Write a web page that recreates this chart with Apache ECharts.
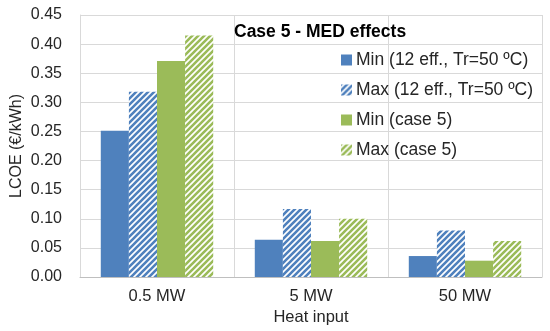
<!DOCTYPE html>
<html><head><meta charset="utf-8">
<script src="https://cdn.jsdelivr.net/npm/echarts@6/dist/echarts.min.js"></script>
<style>html,body{margin:0;padding:0;background:#fff}#c{width:550px;height:331px}</style>
</head><body><div id="c"></div>
<script>
var categories = ['0.5 MW', '5 MW', '50 MW'];
var seriesNames = ['Min (12 eff., Tr=50 ºC)', 'Max (12 eff., Tr=50 ºC)', 'Min (case 5)', 'Max (case 5)'];
var minEff12 = [0.251, 0.064, 0.036];
var maxEff12 = [0.318, 0.117, 0.080];
var minCase5 = [0.371, 0.062, 0.028];
var maxCase5 = [0.415, 0.100, 0.062];
var yTicks = [0, 0.05, 0.10, 0.15, 0.20, 0.25, 0.30, 0.35, 0.40, 0.45];

var BLUE = '#4F81BD', GREEN = '#9BBB59';
function stripe(col) {
  var s = 6, c = document.createElement('canvas');
  c.width = s; c.height = s;
  var g = c.getContext('2d');
  g.fillStyle = '#fff'; g.fillRect(0, 0, s, s);
  g.strokeStyle = col; g.lineWidth = 2.6;
  g.beginPath();
  g.moveTo(-1, s + 1); g.lineTo(s + 1, -1);
  g.moveTo(-1, 1); g.lineTo(1, -1);
  g.moveTo(s - 1, s + 1); g.lineTo(s + 1, s - 1);
  g.stroke();
  return {image: c, repeat: 'repeat'};
}
var FONT = 'Liberation Sans';
var TXT = '#262626';
var chart = echarts.init(document.getElementById('c'), null, {renderer: 'canvas'});
function bar(name, data, color) {
  return {name: name, type: 'bar', data: data, barGap: '0%', barCategoryGap: '27%',
    itemStyle: {color: color}, emphasis: {disabled: true}};
}
chart.setOption({
  animation: false,
  title: {text: 'Case 5 - MED effects', left: 229, top: 18,
    textStyle: {fontFamily: FONT, fontSize: 17.5, fontWeight: 'bold', color: '#000'}},
  legend: {orient: 'vertical', left: 336, top: 46, itemWidth: 11, itemHeight: 11, itemGap: 12,
    icon: 'rect', data: seriesNames,
    textStyle: {fontFamily: FONT, fontSize: 17.5, color: TXT, padding: [0, 0, 0, -1]}},
  grid: {left: 80, right: 8, top: 15, bottom: 54, containLabel: false, outerBoundsMode: 'none'},
  xAxis: {type: 'category', data: categories, name: 'Heat input', nameLocation: 'middle', nameGap: 32,
    nameMoveOverlap: false,
    nameTextStyle: {fontFamily: FONT, fontSize: 16.5, color: TXT},
    axisLine: {show: true, lineStyle: {color: '#bfbfbf'}}, axisTick: {show: false},
    axisLabel: {fontFamily: FONT, fontSize: 16.5, color: TXT, margin: 11},
    splitLine: {show: true, lineStyle: {color: '#d9d9d9'}}},
  yAxis: {type: 'value', min: 0, max: 0.45, interval: 0.05, name: 'LCOE (€/kWh)', nameLocation: 'middle', nameGap: 55,
    nameMoveOverlap: false,
    nameTextStyle: {fontFamily: FONT, fontSize: 16, color: TXT},
    axisLine: {show: true, lineStyle: {color: '#d9d9d9'}}, axisTick: {show: false},
    axisLabel: {fontFamily: FONT, fontSize: 16, color: TXT, margin: 18, formatter: function (v) { return v.toFixed(2); }},
    splitLine: {show: true, lineStyle: {color: '#d9d9d9'}}},
  series: [
    bar(seriesNames[0], minEff12, BLUE),
    bar(seriesNames[1], maxEff12, stripe(BLUE)),
    bar(seriesNames[2], minCase5, GREEN),
    bar(seriesNames[3], maxCase5, stripe(GREEN))
  ]
});
</script></body></html>
